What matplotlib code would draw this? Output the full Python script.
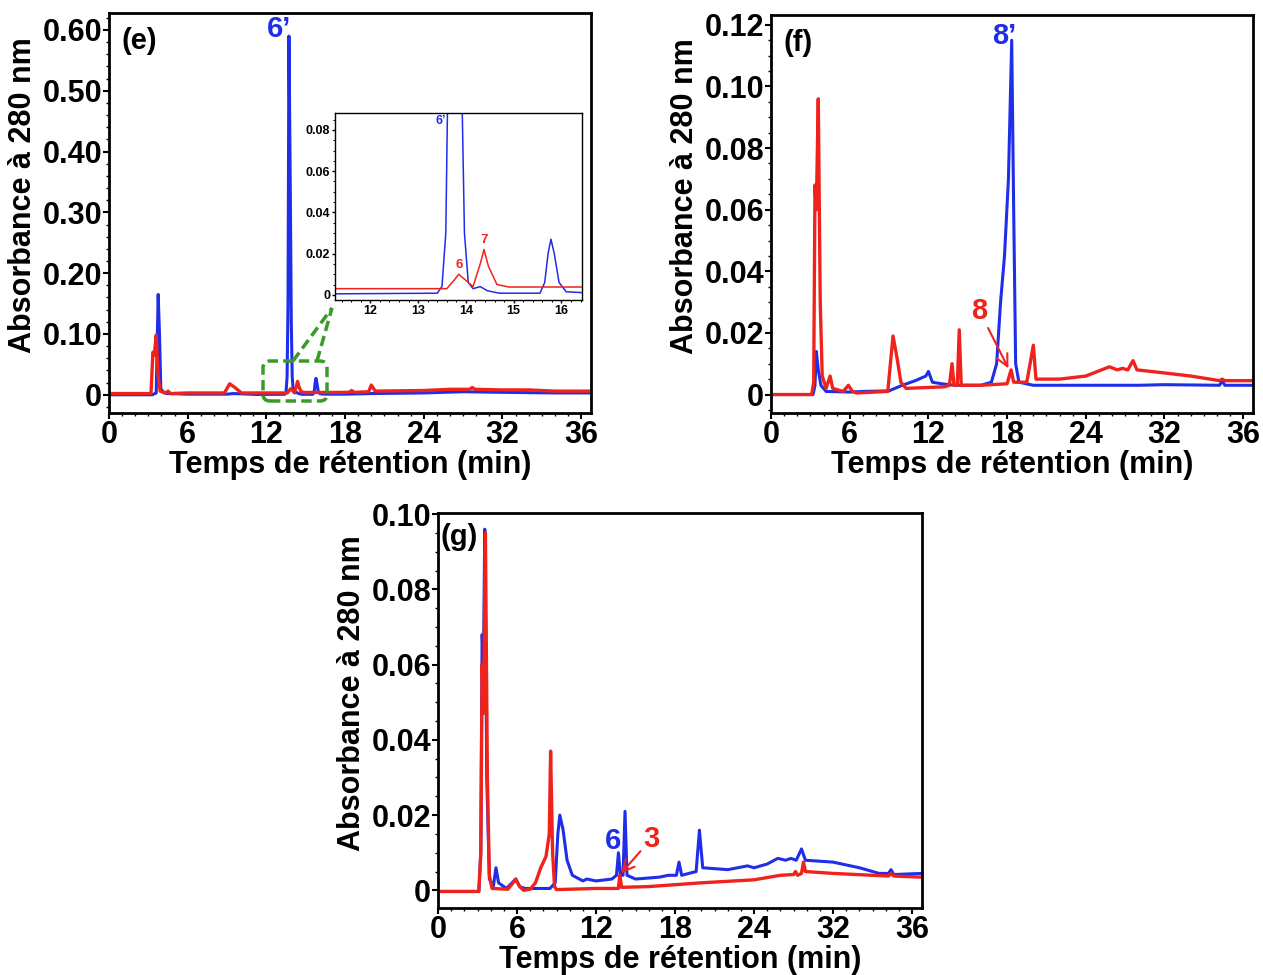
import matplotlib
matplotlib.use("Agg")
import matplotlib.pyplot as plt
from matplotlib.patches import FancyBboxPatch
from matplotlib.lines import Line2D
from matplotlib.ticker import MultipleLocator

plt.rcParams['font.family'] = ['Liberation Sans', 'DejaVu Sans']
plt.rcParams['font.weight'] = 'bold'

BLUE = '#1f2ee8'
RED = '#f0231c'
GREEN = '#3a9a28'

# ---- data (time in min, absorbance) ----
e_blue_t = [0, 3.3, 3.6, 3.75, 3.85, 3.95, 4.2, 4.5, 6, 9, 9.5, 11.3, 13.4, 13.5, 13.58,
            13.65, 13.72, 13.82, 13.9, 13.97, 14.05, 14.15, 14.3, 14.45, 14.7, 15.55, 15.65,
            15.72, 15.78, 15.85, 15.95, 16.1, 16.5, 18, 20, 24, 27, 30, 34, 36.75]
e_blue_y = [0.0, 0.0, 0.003, 0.165, 0.1, 0.01, 0.003, 0.002, 0.001, 0.001, 0.002, 0.0005,
            0.0008, 0.004, 0.03, 0.15, 0.59, 0.35, 0.12, 0.03, 0.006, 0.003, 0.004, 0.002,
            0.0008, 0.0008, 0.006, 0.02, 0.027, 0.02, 0.006, 0.0015, 0.001, 0.001, 0.002,
            0.003, 0.005, 0.004, 0.003, 0.003]
e_red_t = [0, 3.2, 3.35, 3.45, 3.6, 3.75, 3.9, 4.3, 4.5, 4.7, 6, 8.8, 9.2, 9.6, 10.1, 11.3,
           13.6, 13.75, 13.85, 13.95, 14.15, 14.3, 14.38, 14.47, 14.65, 14.9, 16.5, 18.3,
           18.5, 18.7, 19.8, 20.0, 20.3, 24, 26, 27.5, 27.7, 27.9, 30, 32, 34, 36.75]
e_red_y = [0.002, 0.002, 0.07, 0.065, 0.098, 0.03, 0.006, 0.003, 0.006, 0.002, 0.003, 0.003,
           0.018, 0.012, 0.003, 0.003, 0.003, 0.007, 0.01, 0.008, 0.004, 0.015, 0.022, 0.014,
           0.005, 0.0038, 0.0038, 0.004, 0.007, 0.004, 0.005, 0.016, 0.006, 0.007, 0.009,
           0.009, 0.012, 0.009, 0.008, 0.008, 0.006, 0.006]

f_blue_t = [0, 3.2, 3.35, 3.45, 3.6, 3.8, 4.2, 6, 7, 9, 10, 11, 11.8, 12.0, 12.3, 13, 14,
            16, 16.8, 17.2, 17.5, 17.8, 18.1, 18.35, 18.5, 18.65, 18.9, 20, 24, 28, 30,
            34.2, 34.4, 34.6, 36.75]
f_blue_y = [0.0, 0.0, 0.003, 0.014, 0.008, 0.003, 0.001, 0.0008, 0.001, 0.0012, 0.003,
            0.0045, 0.006, 0.0075, 0.004, 0.0035, 0.003, 0.003, 0.004, 0.01, 0.03, 0.045,
            0.07, 0.115, 0.06, 0.01, 0.004, 0.003, 0.003, 0.003, 0.0032, 0.003, 0.0045,
            0.003, 0.003]
f_red_t = [0, 3.1, 3.25, 3.35, 3.45, 3.6, 3.75, 3.9, 4.2, 4.5, 4.7, 5.5, 5.9, 6.2, 6.5,
           8.9, 9.1, 9.3, 9.6, 9.9, 10.3, 13.2, 13.6, 13.8, 13.95, 14.2, 14.35, 14.5, 16,
           18.0, 18.3, 18.5, 19.5, 20.0, 20.2, 22, 24, 25.8, 26.4, 26.8, 27.2, 27.6, 27.9,
           30, 32, 34.2, 34.4, 34.6, 36.75]
f_red_y = [0.0, 0.0, 0.004, 0.068, 0.06, 0.096, 0.03, 0.006, 0.002, 0.006, 0.002, 0.001,
           0.003, 0.001, 0.0005, 0.001, 0.01, 0.019, 0.012, 0.004, 0.002, 0.0025, 0.003,
           0.01, 0.003, 0.003, 0.021, 0.003, 0.003, 0.0035, 0.008, 0.004, 0.004, 0.016,
           0.005, 0.005, 0.006, 0.009, 0.008, 0.0085, 0.008, 0.011, 0.008, 0.007, 0.006,
           0.0045, 0.005, 0.0045, 0.0045]

g_blue_t = [0, 3.1, 3.25, 3.35, 3.45, 3.55, 3.7, 3.9, 4.2, 4.4, 4.6, 5.2, 5.9, 6.2, 6.6,
            8.5, 8.9, 9.1, 9.25, 9.5, 9.8, 10.2, 11, 11.3, 12, 13.2, 13.55, 13.7, 13.85,
            14.05, 14.2, 14.35, 15, 16.8, 17.5, 18.1, 18.3, 18.5, 19.6, 19.85, 20.1, 22,
            23.5, 24, 25, 25.8, 26.4, 26.8, 27.2, 27.6, 27.9, 30, 32, 33.5, 34.2, 34.4,
            34.6, 36.75]
g_blue_y = [-0.0003, -0.0003, 0.01, 0.068, 0.06, 0.096, 0.03, 0.003, 0.001, 0.006, 0.002,
            0.0005, 0.003, 0.001, 0.0005, 0.0005, 0.002, 0.015, 0.02, 0.016, 0.008, 0.004,
            0.0025, 0.003, 0.0025, 0.003, 0.004, 0.01, 0.004, 0.004, 0.021, 0.004, 0.003,
            0.0035, 0.004, 0.004, 0.0075, 0.004, 0.005, 0.016, 0.006, 0.0055, 0.0065, 0.006,
            0.007, 0.0085, 0.008, 0.0085, 0.008, 0.011, 0.008, 0.0075, 0.006, 0.0045,
            0.0045, 0.0055, 0.0042, 0.0045]
g_red_t = [0, 3.1, 3.25, 3.35, 3.45, 3.6, 3.75, 3.9, 4.1, 5.3, 5.7, 5.9, 6.2, 6.5, 7.0,
           7.4, 7.8, 8.2, 8.45, 8.55, 8.7, 8.85, 9.0, 12, 13.7, 13.8, 13.95, 16, 20, 24,
           26, 27, 27.15, 27.3, 27.6, 27.75, 27.9, 30, 34.2, 34.4, 34.6, 36.75]
g_red_y = [-0.0003, -0.0003, 0.01, 0.06, 0.047, 0.095, 0.03, 0.004, 0.0005, 0.0003, 0.002,
           0.003, 0.001, 0.0, 0.0003, 0.002, 0.006, 0.009, 0.015, 0.037, 0.01, 0.001,
           0.0002, 0.0005, 0.0005, 0.004, 0.0008, 0.001, 0.002, 0.0028, 0.004, 0.0042,
           0.005, 0.004, 0.0045, 0.0075, 0.005, 0.0045, 0.0038, 0.0045, 0.0038, 0.0035]

x_ticks = [0, 6, 12, 18, 24, 30, 36]
x_labels = ['0', '6', '12', '18', '24', '32', '36']

e_yticks = [0, 0.1, 0.2, 0.3, 0.4, 0.5, 0.6]
e_ylabels = ['0', '0.10', '0.20', '0.30', '0.40', '0.50', '0.60']
f_yticks = [0, 0.02, 0.04, 0.06, 0.08, 0.10, 0.12]
f_ylabels = ['0', '0.02', '0.04', '0.06', '0.08', '0.10', '0.12']
g_yticks = [0, 0.02, 0.04, 0.06, 0.08, 0.10]
g_ylabels = ['0', '0.02', '0.04', '0.06', '0.08', '0.10']
ins_xticks = [12, 13, 14, 15, 16]
ins_yticks = [0, 0.02, 0.04, 0.06, 0.08]
ins_ylabels = ['0', '0.02', '0.04', '0.06', '0.08']


def style(ax, yticks, ylabels, ylim, yminor, fs=22):
    ax.set_xlim(0, 36.75)
    ax.set_ylim(*ylim)
    ax.set_xticks(x_ticks)
    ax.set_xticklabels(x_labels)
    ax.set_yticks(yticks)
    ax.set_yticklabels(ylabels)
    ax.xaxis.set_minor_locator(MultipleLocator(1))
    ax.yaxis.set_minor_locator(MultipleLocator(yminor))
    ax.tick_params(which='major', direction='out', length=4, width=1.5, labelsize=fs, pad=1)
    ax.tick_params(which='minor', direction='out', length=2.5, width=1)
    for s in ax.spines.values():
        s.set_linewidth(2)
    ax.set_xlabel('Temps de rétention (min)', fontsize=22, fontweight='bold', labelpad=0)
    ax.set_ylabel('Absorbance à 280 nm', fontsize=22, fontweight='bold', labelpad=1)
    ax.yaxis.set_label_coords(-0.147, 0.545)


fig = plt.figure(figsize=(12.63, 9.75), dpi=100)

# ---- panel (e) ----
ax_e = fig.add_axes([0.0863, 0.5764, 0.3816, 0.4103])
ax_e.plot(e_blue_t, e_blue_y, color=BLUE, lw=2.2)
ax_e.plot(e_red_t, e_red_y, color=RED, lw=2.4)
style(ax_e, e_yticks, e_ylabels, (-0.03, 0.628), 0.02)
ax_e.text(0.025, 0.965, '(e)', transform=ax_e.transAxes, fontsize=21, va='top', ha='left')
ax_e.text(13.0, 0.578, '6\u2019', color=BLUE, fontsize=21, ha='center', va='bottom')

# inset
ax_i = fig.add_axes([0.2652, 0.6923, 0.1956, 0.1918])
ax_i.plot(e_blue_t, e_blue_y, color=BLUE, lw=1.1)
ax_i.plot(e_red_t, e_red_y, color=RED, lw=1.1)
ax_i.set_xlim(11.26, 16.43)
ax_i.set_ylim(-0.0025, 0.0882)
ax_i.set_xticks(ins_xticks)
ax_i.set_yticks(ins_yticks)
ax_i.set_yticklabels(ins_ylabels)
ax_i.xaxis.set_minor_locator(MultipleLocator(0.2))
ax_i.yaxis.set_minor_locator(MultipleLocator(0.005))
ax_i.tick_params(which='major', direction='out', length=2.5, width=1, labelsize=9, pad=1)
ax_i.tick_params(which='minor', direction='out', length=1.5, width=0.7)
for s in ax_i.spines.values():
    s.set_linewidth(1)
ax_i.text(13.47, 0.0815, '6\u2019', color=BLUE, fontsize=9, ha='center', va='bottom')
ax_i.text(13.85, 0.0115, '6', color=RED, fontsize=9.5, ha='center', va='bottom')
ax_i.text(14.38, 0.0235, '7', color=RED, fontsize=9.5, ha='center', va='bottom')

# green dashed zoom box and connectors (figure inches)
box = FancyBboxPatch((2.65, 5.76), 0.6, 0.36, boxstyle='round,pad=0.02,rounding_size=0.07',
                     transform=fig.dpi_scale_trans, fill=False, ec=GREEN, lw=2.5,
                     ls=(0, (3, 1.5)))
fig.patches.append(box)
for x0 in (2.93, 3.17):
    fig.lines.append(Line2D([x0, 3.32], [6.14, 6.67], transform=fig.dpi_scale_trans,
                            color=GREEN, lw=2.5, ls=(0, (3, 1.5))))

# ---- panel (f) ----
ax_f = fig.add_axes([0.6105, 0.5764, 0.3816, 0.4082])
ax_f.plot(f_blue_t, f_blue_y, color=BLUE, lw=2.2)
ax_f.plot(f_red_t, f_red_y, color=RED, lw=2.4)
style(ax_f, f_yticks, f_ylabels, (-0.006, 0.1232), 0.005)
ax_f.text(0.025, 0.965, '(f)', transform=ax_f.transAxes, fontsize=21, va='top', ha='left')
ax_f.text(17.8, 0.112, '8\u2019', color=BLUE, fontsize=21, ha='center', va='bottom')
ax_f.annotate('8', xy=(18.1, 0.0085), xytext=(15.9, 0.0225), color=RED, fontsize=21,
              ha='center', va='bottom',
              arrowprops=dict(arrowstyle='->', color=RED, lw=1.5, shrinkA=0, shrinkB=0))

# ---- panel (g) ----
ax_g = fig.add_axes([0.3468, 0.0687, 0.3832, 0.4051])
ax_g.plot(g_blue_t, g_blue_y, color=BLUE, lw=2.2)
ax_g.plot(g_red_t, g_red_y, color=RED, lw=2.4)
style(ax_g, g_yticks, g_ylabels, (-0.0047, 0.1003), 0.005)
ax_g.text(0.005, 0.975, '(g)', transform=ax_g.transAxes, fontsize=21, va='top', ha='left')
ax_g.text(13.3, 0.0095, '6', color=BLUE, fontsize=21, ha='center', va='bottom')
ax_g.annotate('3', xy=(13.9, 0.0045), xytext=(16.2, 0.0100), color=RED, fontsize=21,
              ha='center', va='bottom',
              arrowprops=dict(arrowstyle='->', color=RED, lw=1.5, shrinkA=0, shrinkB=0))

fig.savefig('out.png', dpi=100)
